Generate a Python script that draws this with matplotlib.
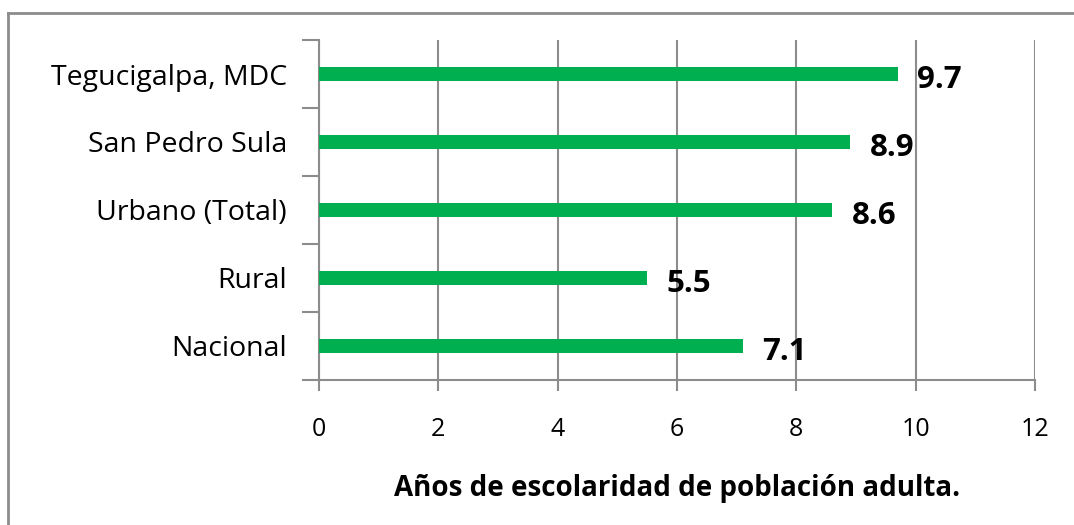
import matplotlib
matplotlib.use('Agg')
import matplotlib.pyplot as plt
from matplotlib.lines import Line2D
import numpy as np

# ── Data ─────────────────────────────────────────────
categories = ['Nacional', 'Rural', 'Urbano (Total)', 'San Pedro Sula', 'Tegucigalpa, MDC']
values     = [7.1, 5.5, 8.6, 8.9, 9.7]
x_ticks    = [0, 2, 4, 6, 8, 10, 12]
xlabel     = 'Años de escolaridad de población adulta.'

GREEN = '#00b050'
GRID  = '#8c8c8c'
FONT  = 'Open Sans'

W, H = 1074, 525
fig = plt.figure(figsize=(W/100, H/100), dpi=100)
ax = fig.add_axes([319/W, 1 - 380/H, (1035-319)/W, (380-40)/H])

y = np.arange(len(categories))
ax.barh(y, values, height=0.2, color=GREEN, zorder=3)

for yi, v in zip(y, values):
    ax.annotate(f'{v:.1f}', (v, yi), xytext=(14, -4), textcoords='offset points',
                ha='left', va='center', fontsize=22.5, fontweight='bold',
                family=FONT, color='black', zorder=4)

ax.set_xlim(0, 12)
ax.set_ylim(-0.5, len(categories) - 0.5)
ax.set_xticks(x_ticks)
ax.set_xticklabels([str(t) for t in x_ticks], fontsize=18, family=FONT)
ax.tick_params(axis='x', length=8, width=1.5, color=GRID, pad=19)

# category boundaries as major ticks, labels on minor ticks
ax.set_yticks(np.arange(-0.5, len(categories), 1.0))
ax.set_yticklabels([])
ax.set_yticks(y, minor=True)
ax.set_yticklabels(categories, minor=True, fontsize=20.5, family=FONT)
ax.tick_params(axis='y', which='major', length=12, width=1.5, color=GRID)
ax.tick_params(axis='y', which='minor', length=0, pad=23)

ax.grid(axis='x', color=GRID, linewidth=1.5, zorder=0)
for s in ['top', 'right']:
    ax.spines[s].set_visible(False)
for s in ['left', 'bottom']:
    ax.spines[s].set_color(GRID)
    ax.spines[s].set_linewidth(1.5)

ax.set_xlabel(xlabel, fontsize=20, fontweight='bold', family=FONT, labelpad=23)

# outer chart frame (only left and top visible in crop)
fig.add_artist(Line2D([8/W, 8/W], [0, 1 - 13/H], color='#8c8c8c', lw=2,
                      transform=fig.transFigure))
fig.add_artist(Line2D([8/W, 1], [1 - 13/H, 1 - 13/H], color='#8c8c8c', lw=2,
                      transform=fig.transFigure))

fig.savefig('out.png', dpi=100)
